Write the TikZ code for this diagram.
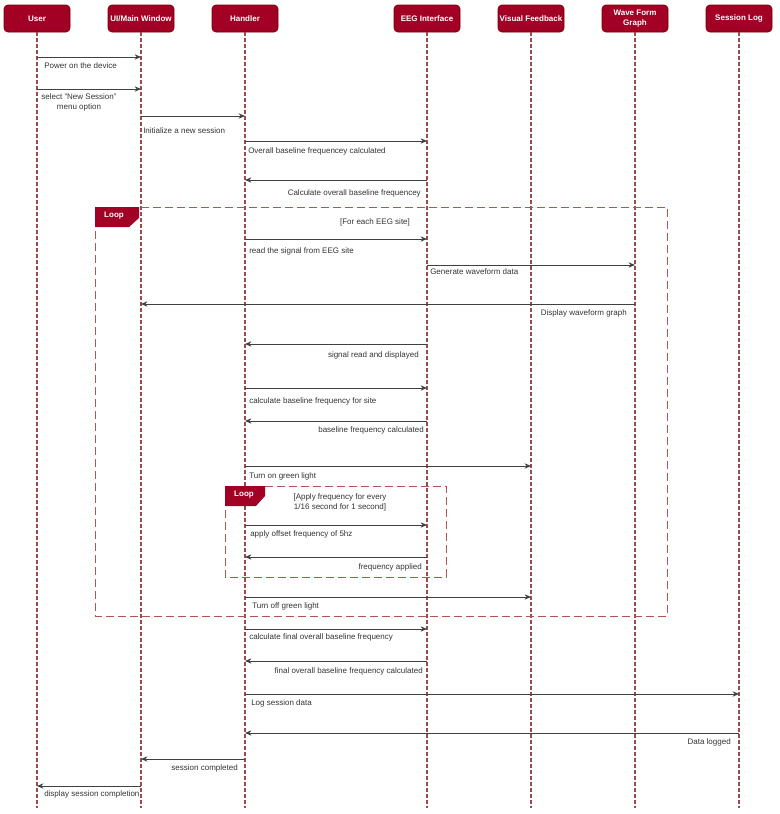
\documentclass[tikz,border=0pt]{standalone}
\usepackage{fontspec}
\setmainfont{Liberation Sans}
\usepackage{tikz}
\usetikzlibrary{arrows.meta,positioning}
\definecolor{boxred}{HTML}{A20025}
\definecolor{boxline}{HTML}{6F0000}
\definecolor{lifered}{HTML}{9A4B4B}
\definecolor{framered}{HTML}{B85450}
\definecolor{msggray}{HTML}{404040}
\definecolor{txtgray}{HTML}{333333}
\tikzset{actor/.style={rectangle,rounded corners=3pt,fill=boxred,draw=boxline,line width=0.5pt,minimum width=49.5pt,minimum height=20.25pt,inner sep=1pt,text=white,font=\fontsize{6}{7}\selectfont\bfseries,align=center}}
\tikzset{lifeline/.style={lifered,line width=1.6pt,dash pattern=on 2.6pt off 1.9pt}}
\tikzset{msg/.style={msggray,line width=0.75pt,-{Stealth[length=4.8pt,width=4pt]}}}
\tikzset{lbl/.style={inner sep=0pt,text=txtgray,font=\fontsize{6}{7.5}\selectfont}}
\tikzset{frame/.style={framered,line width=0.75pt,dash pattern=on 6pt off 3pt}}
\tikzset{looptag/.style={fill=boxred,draw=none}}
\tikzset{tagtext/.style={inner sep=0pt,text=white,font=\fontsize{6}{7}\selectfont\bfseries}}
\begin{document}
\begin{tikzpicture}[x=0.75pt,y=-0.75pt]
%sequence of one EEG session, from the user down to the session log
\useasboundingbox (0,0) rectangle (780,814);
\node (user) at (37,18.5)[actor]{User};
\node (ui) [actor, right=28pt of user]{UI/Main Window};
\node (handler) [actor, right=28pt of ui]{Handler};
\node (eeg) [actor, right=86.5pt of handler]{EEG Interface};
\node (visual) [actor, right=28pt of eeg]{Visual Feedback};
\node (wave) [actor, right=28pt of visual]{Wave Form\\Graph};
\node (log) [actor, right=28pt of wave]{Session Log};
\foreach \a in {user,ui,handler,eeg,visual,wave,log}
  \draw[lifeline] (\a.south) -- (\a |- 0,808);
% loop frames
\draw[frame] (95,207) rectangle (667,616);
\fill[looptag] (95,207) -- (139,207) -- (139,218) -- (129,227) -- (95,227) -- cycle;
\node (loopa) at (114,216)[tagtext]{Loop};
\node (guarda) at (375,222)[lbl]{[For each EEG site]};
\draw[frame] (225,486) rectangle (446,577);
\fill[looptag] (225,486) -- (265,486) -- (265,496) -- (256,506) -- (225,506) -- cycle;
\node (loopb) at (244,495)[tagtext]{Loop};
\node (guardb) at (340,502)[lbl,align=center]{[Apply frequency for every\\1/16 second for 1 second]};
% messages
\draw[msg] (user |- 0,57) -- (ui |- 0,57);
\node (t1) at (44,66)[lbl,anchor=west]{Power on the device};
\draw[msg] (user |- 0,89) -- (ui |- 0,89);
\node (t2) at (79,102)[lbl,align=center]{select "New Session"\\menu option};
\draw[msg] (ui |- 0,116) -- (handler |- 0,116);
\node (t3) at (143,131)[lbl,anchor=west]{Initialize a new session};
\draw[msg] (handler |- 0,141) -- (eeg |- 0,141);
\node (t4) at (248,151)[lbl,anchor=west]{Overall baseline frequencey calculated};
\draw[msg] (eeg |- 0,180) -- (handler |- 0,180);
\node (t5) at (421,193)[lbl,anchor=east]{Calculate overall baseline frequencey};
\draw[msg] (handler |- 0,239) -- (eeg |- 0,239);
\node (t6) at (249,251)[lbl,anchor=west]{read the signal from EEG site};
\draw[msg] (eeg |- 0,265) -- (wave |- 0,265);
\node (t7) at (430,272)[lbl,anchor=west]{Generate waveform data};
\draw[msg] (wave |- 0,304) -- (ui |- 0,304);
\node (t8) at (627,313)[lbl,anchor=east]{Display waveform graph};
\draw[msg] (eeg |- 0,344) -- (handler |- 0,344);
\node (t9) at (419,355)[lbl,anchor=east]{signal read and displayed};
\draw[msg] (handler |- 0,388) -- (eeg |- 0,388);
\node (t10) at (249,401)[lbl,anchor=west]{calculate baseline frequency for site};
\draw[msg] (eeg |- 0,421) -- (handler |- 0,421);
\node (t11) at (424,430)[lbl,anchor=east]{baseline frequency calculated};
\draw[msg] (handler |- 0,466) -- (visual |- 0,466);
\node (t12) at (249,476)[lbl,anchor=west]{Turn on green light};
\draw[msg] (handler |- 0,525) -- (eeg |- 0,525);
\node (t13) at (250,534)[lbl,anchor=west]{apply offset frequency of 5hz};
\draw[msg] (eeg |- 0,557) -- (handler |- 0,557);
\node (t14) at (422,567)[lbl,anchor=east]{frequency applied};
\draw[msg] (handler |- 0,597) -- (visual |- 0,597);
\node (t15) at (252,606)[lbl,anchor=west]{Turn off green light};
\draw[msg] (handler |- 0,629) -- (eeg |- 0,629);
\node (t16) at (249,637)[lbl,anchor=west]{calculate final overall baseline frequency};
\draw[msg] (eeg |- 0,661) -- (handler |- 0,661);
\node (t17) at (423,671)[lbl,anchor=east]{final overall baseline frequency calculated};
\draw[msg] (handler |- 0,694) -- (log |- 0,694);
\node (t18) at (251,703)[lbl,anchor=west]{Log session data};
\draw[msg] (log |- 0,733) -- (handler |- 0,733);
\node (t19) at (731,742)[lbl,anchor=east]{Data logged};
\draw[msg] (handler |- 0,759) -- (ui |- 0,759);
\node (t20) at (238,768)[lbl,anchor=east]{session completed};
\draw[msg] (ui |- 0,786) -- (user |- 0,786);
\node (t21) at (44,794)[lbl,anchor=west]{display session completion};
\end{tikzpicture}
\end{document}
